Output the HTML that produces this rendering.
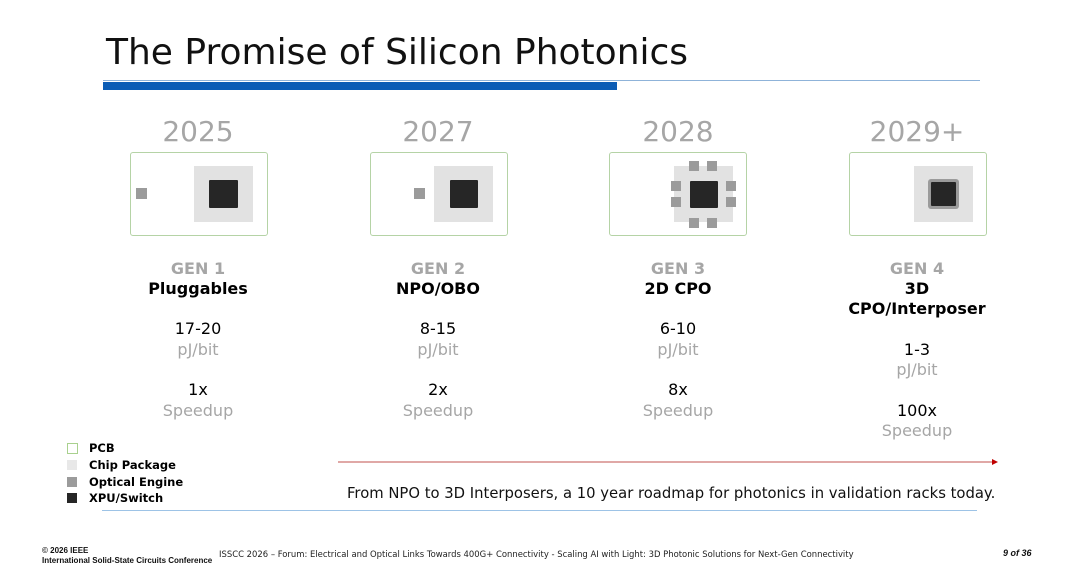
<!DOCTYPE html>
<html><head><meta charset="utf-8"><style>
body{margin:0;width:1080px;height:568px;background:#fff;position:relative;overflow:hidden;font-family:"DejaVu Sans","Liberation Sans",sans-serif}
.a{position:absolute}
.t{position:absolute;text-align:center;width:200px;white-space:nowrap}
.box{position:absolute;border:1px solid #b5d3a6;border-radius:3px;width:136px;height:82px;top:152px;background:#fff}
.pk{position:absolute;background:#e2e2e2}
.oe{position:absolute;background:#9b9b9b}
.xp{position:absolute;background:#262626;border-radius:1px}
.gen{font-weight:bold;color:#a6a6a6;font-size:16px}
.nm{font-weight:bold;color:#000;font-size:16px}
.v{color:#000;font-size:16px}
.u{color:#a6a6a6;font-size:16px}
.yr{color:#a6a6a6;font-size:28px}
.lg{position:absolute;left:67px;width:10px;height:10px}
.lt{position:absolute;left:89px;font-weight:bold;font-size:11.5px}
</style></head><body>
<div class="a" style="left:106px;top:32px;font-size:36px;color:#111;font-family:'DejaVu Sans',sans-serif">The Promise of Silicon Photonics</div>
<div class="a" style="left:103px;top:80px;width:877px;height:1px;background:#8fb3d9"></div>
<div class="a" style="left:103px;top:82px;width:514px;height:8px;background:#0b5cb5"></div>

<div class="t yr" style="left:98px;top:115px">2025</div>
<div class="t yr" style="left:338px;top:115px">2027</div>
<div class="t yr" style="left:578px;top:115px">2028</div>
<div class="t yr" style="left:817px;top:115px">2029+</div>

<div class="box" style="left:130px">
<div class="oe" style="left:5px;top:35px;width:11px;height:11px"></div>
<div class="pk" style="left:63px;top:13px;width:59px;height:56px"></div>
<div class="xp" style="left:78px;top:27px;width:29px;height:28px"></div></div>
<div class="box" style="left:370px">
<div class="oe" style="left:43px;top:35px;width:11px;height:11px"></div>
<div class="pk" style="left:63px;top:13px;width:59px;height:56px"></div>
<div class="xp" style="left:79px;top:27px;width:28px;height:28px"></div></div>
<div class="box" style="left:609px">
<div class="pk" style="left:64px;top:13px;width:59px;height:56px"></div>
<div class="oe" style="left:79px;top:8px;width:10px;height:10px"></div><div class="oe" style="left:97px;top:8px;width:10px;height:10px"></div>
<div class="oe" style="left:79px;top:65px;width:10px;height:10px"></div><div class="oe" style="left:97px;top:65px;width:10px;height:10px"></div>
<div class="oe" style="left:61px;top:28px;width:10px;height:10px"></div><div class="oe" style="left:61px;top:44px;width:10px;height:10px"></div>
<div class="oe" style="left:116px;top:28px;width:10px;height:10px"></div><div class="oe" style="left:116px;top:44px;width:10px;height:10px"></div>
<div class="xp" style="left:80px;top:28px;width:28px;height:27px"></div></div>
<div class="box" style="left:849px">
<div class="pk" style="left:64px;top:13px;width:59px;height:56px"></div>
<div class="oe" style="left:78px;top:26px;width:31px;height:30px;border-radius:3px"></div>
<div class="xp" style="left:81px;top:29px;width:25px;height:24px"></div></div>

<div>
<div class="t gen" style="left:98px;top:259px">GEN 1</div>
<div class="t nm" style="left:98px;top:279px">Pluggables</div>
<div class="t v" style="left:98px;top:319px">17-20</div>
<div class="t u" style="left:98px;top:340px">pJ/bit</div>
<div class="t v" style="left:98px;top:380px">1x</div>
<div class="t u" style="left:98px;top:401px">Speedup</div></div>
<div>
<div class="t gen" style="left:338px;top:259px">GEN 2</div>
<div class="t nm" style="left:338px;top:279px">NPO/OBO</div>
<div class="t v" style="left:338px;top:319px">8-15</div>
<div class="t u" style="left:338px;top:340px">pJ/bit</div>
<div class="t v" style="left:338px;top:380px">2x</div>
<div class="t u" style="left:338px;top:401px">Speedup</div></div>
<div>
<div class="t gen" style="left:578px;top:259px">GEN 3</div>
<div class="t nm" style="left:578px;top:279px">2D CPO</div>
<div class="t v" style="left:578px;top:319px">6-10</div>
<div class="t u" style="left:578px;top:340px">pJ/bit</div>
<div class="t v" style="left:578px;top:380px">8x</div>
<div class="t u" style="left:578px;top:401px">Speedup</div></div>
<div>
<div class="t gen" style="left:817px;top:259px">GEN 4</div>
<div class="t nm" style="left:817px;top:279px">3D</div>
<div class="t nm" style="left:817px;top:299px">CPO/Interposer</div>
<div class="t v" style="left:817px;top:340px">1-3</div>
<div class="t u" style="left:817px;top:360px">pJ/bit</div>
<div class="t v" style="left:817px;top:401px">100x</div>
<div class="t u" style="left:817px;top:421px">Speedup</div></div>

<div>
<div class="lg" style="top:443px;border:1px solid #a9d18e;width:9px;height:9px"></div><div class="lt" style="top:441px">PCB</div>
<div class="lg" style="top:460px;background:#e8e8e8"></div><div class="lt" style="top:458px">Chip Package</div>
<div class="lg" style="top:477px;background:#9b9b9b"></div><div class="lt" style="top:475px">Optical Engine</div>
<div class="lg" style="top:493px;background:#262626"></div><div class="lt" style="top:491px">XPU/Switch</div></div>

<svg class="a" style="left:336px;top:456px" width="666" height="12"><line x1="2" y1="6" x2="656" y2="6" stroke="#c0504d" stroke-width="1"/><polygon points="656,3 662,6 656,9" fill="#c00000"/></svg>
<div class="a" style="left:347px;top:485px;font-size:14.8px;color:#111;white-space:nowrap">From NPO to 3D Interposers, a 10 year roadmap for photonics in validation racks today.</div>
<div class="a" style="left:102px;top:510px;width:875px;height:1px;background:#9dc3e6"></div>

<div class="a" style="left:42px;top:546px;font-size:8px;font-weight:bold;line-height:10px;font-family:'Liberation Sans',sans-serif;color:#111">© 2026 IEEE<br>International Solid-State Circuits Conference</div>
<div class="a" style="left:219px;top:549px;font-size:8.45px;color:#222;white-space:nowrap">ISSCC 2026 – Forum: Electrical and Optical Links Towards 400G+ Connectivity - Scaling AI with Light: 3D Photonic Solutions for Next-Gen Connectivity</div>
<div class="a" style="left:1003px;top:548px;font-size:9px;font-weight:bold;font-style:italic;color:#111;font-family:'Liberation Sans',sans-serif">9 of 36</div>
</body></html>
